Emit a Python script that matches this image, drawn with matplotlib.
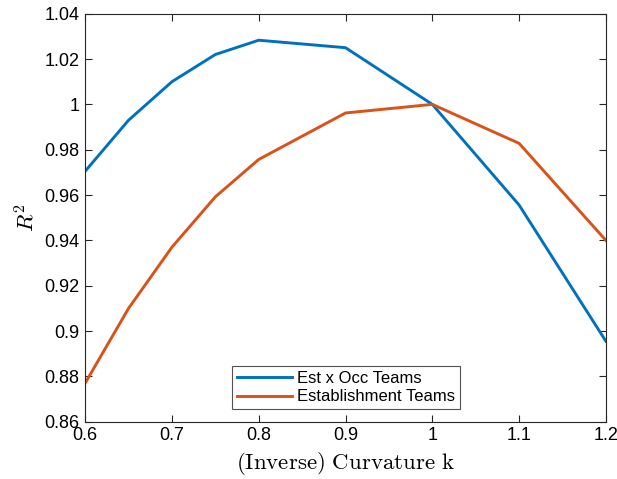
import numpy as np
import matplotlib.pyplot as plt

plt.rcParams['font.family'] = ['Liberation Sans', 'DejaVu Sans']
plt.rcParams['mathtext.fontset'] = 'cm'

# data
k = [0.6, 0.65, 0.7, 0.75, 0.8, 0.9, 1.0, 1.1, 1.2]
r2_est_occ = [0.9705, 0.9930, 1.0100, 1.0220, 1.0283, 1.0250, 1.0000, 0.9556, 0.8955]
r2_estab = [0.8770, 0.9100, 0.9370, 0.9592, 0.9757, 0.9962, 1.0000, 0.9828, 0.9400]

xticks = [0.6, 0.7, 0.8, 0.9, 1.0, 1.1, 1.2]
xticklabels = ['0.6', '0.7', '0.8', '0.9', '1', '1.1', '1.2']
yticks = [0.86, 0.88, 0.90, 0.92, 0.94, 0.96, 0.98, 1.00, 1.02, 1.04]
yticklabels = ['0.86', '0.88', '0.9', '0.92', '0.94', '0.96', '0.98', '1', '1.02', '1.04']

fig = plt.figure(figsize=(6.17, 4.79), dpi=100)
ax = fig.add_axes([0.138, 0.1196, 0.844, 0.8518])

ax.plot(k, r2_est_occ, color='#0072BD', lw=2.1, label='Est x Occ Teams')
ax.plot(k, r2_estab, color='#D95319', lw=2.1, label='Establishment Teams')

ax.set_xlim(0.6, 1.2)
ax.set_ylim(0.86, 1.04)
ax.set_xticks(xticks)
ax.set_xticklabels(xticklabels)
ax.set_yticks(yticks)
ax.set_yticklabels(yticklabels)
ax.tick_params(direction='in', top=True, right=True, labelsize=13,
               length=5, width=0.8, colors='#262626', labelcolor='black', pad=4)
for s in ax.spines.values():
    s.set_color('#262626')
    s.set_linewidth(0.8)

ax.set_xlabel(r'$\mathrm{(Inverse)\ Curvature\ k}$', fontsize=16.5, labelpad=4)
ax.set_ylabel(r'$R^2$', fontsize=16.5, labelpad=4)

leg = ax.legend(loc='lower center', bbox_to_anchor=(0.5, 0.03), fontsize=12,
                frameon=True, fancybox=False, edgecolor='#262626',
                handlelength=3.3, handletextpad=0.3, borderpad=0.3,
                labelspacing=0.2, borderaxespad=0)
leg.get_frame().set_linewidth(0.8)

fig.savefig('out.png', dpi=100)
